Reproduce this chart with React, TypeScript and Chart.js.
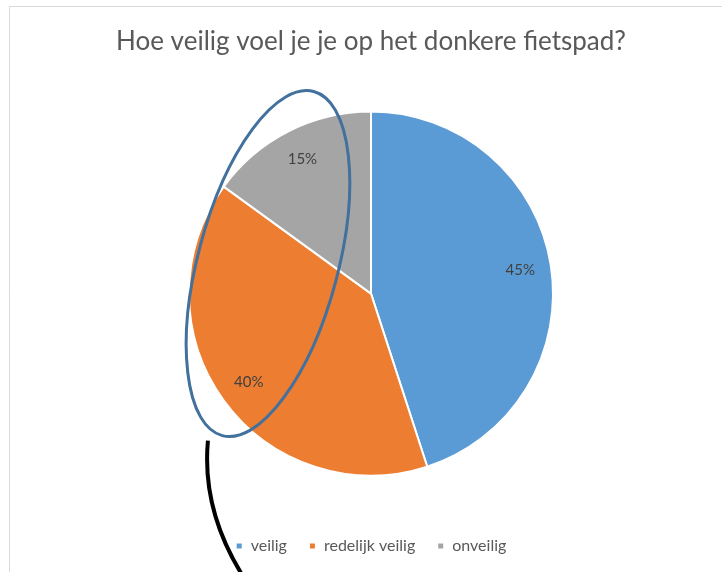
import React, { useEffect, useRef } from "react";
import { Chart, registerables } from "chart.js";

Chart.register(...registerables);

const categories = ["veilig", "redelijk veilig", "onveilig"];
const percentages = [45, 40, 15];
const sliceColors = ["#5B9BD5", "#ED7D31", "#A5A5A5"];
const titleText = "Hoe veilig voel je je op het donkere fietspad?";

const FONT = "Lato, 'Open Sans', sans-serif";

const decorPlugin = {
  id: "decor",
  beforeDraw(chart: any) {
    const ctx = chart.ctx;
    ctx.save();
    ctx.strokeStyle = "#D9D9D9";
    ctx.lineWidth = 1;
    ctx.beginPath();
    ctx.moveTo(9.5, chart.height + 2);
    ctx.lineTo(9.5, 6.5);
    ctx.lineTo(chart.width + 2, 6.5);
    ctx.stroke();
    ctx.restore();
  },
  afterDatasetsDraw(chart: any) {
    const ctx = chart.ctx;
    const meta = chart.getDatasetMeta(0);
    ctx.save();
    ctx.fillStyle = "#404040";
    ctx.font = "15px " + FONT;
    ctx.textAlign = "center";
    ctx.textBaseline = "middle";
    meta.data.forEach((arc: any, i: number) => {
      const { x, y, startAngle, endAngle, outerRadius } = arc.getProps(
        ["x", "y", "startAngle", "endAngle", "outerRadius"],
        true
      );
      const mid = (startAngle + endAngle) / 2;
      const r = outerRadius * 0.83;
      ctx.fillText(
        percentages[i] + "%",
        x + Math.cos(mid) * r,
        y + Math.sin(mid) * r
      );
    });
    ctx.restore();
  },
  afterDraw(chart: any) {
    const ctx = chart.ctx;
    const arc = chart.getDatasetMeta(0).data[0];
    if (!arc) return;
    const { x: cx, y: cy, outerRadius: R } = arc.getProps(
      ["x", "y", "outerRadius"],
      true
    );
    ctx.save();
    // highlight ellipse
    ctx.strokeStyle = "#41719C";
    ctx.lineWidth = 3;
    ctx.beginPath();
    ctx.ellipse(
      cx - 0.566 * R,
      cy - 0.165 * R,
      0.385 * R,
      0.978 * R,
      0.26,
      0,
      Math.PI * 2
    );
    ctx.stroke();
    // pointer curve
    ctx.strokeStyle = "#000000";
    ctx.lineWidth = 4;
    ctx.beginPath();
    ctx.moveTo(cx - 0.896 * R, cy + 0.808 * R);
    ctx.quadraticCurveTo(
      cx - 0.932 * R,
      cy + 1.198 * R,
      cx - 0.692 * R,
      cy + 1.571 * R
    );
    ctx.stroke();
    ctx.restore();
  },
};

export default function App() {
  const canvasRef = useRef<HTMLCanvasElement | null>(null);

  useEffect(() => {
    if (!canvasRef.current) return;
    const chart = new Chart(canvasRef.current, {
      type: "pie",
      data: {
        labels: categories,
        datasets: [
          {
            data: percentages,
            backgroundColor: sliceColors,
            borderColor: "#FFFFFF",
            borderWidth: 2,
            radius: 182,
          },
        ],
      },
      options: {
        responsive: false,
        animation: false,
        layout: { padding: { left: 20, right: 0, top: 0, bottom: 8 } },
        plugins: {
          title: {
            display: true,
            text: titleText,
            color: "#595959",
            font: { family: FONT, size: 26, weight: "normal" },
            padding: { top: 26.5, bottom: 13.5 },
          },
          legend: {
            display: true,
            position: "bottom",
            labels: {
              color: "#595959",
              font: { family: FONT, size: 16 },
              boxWidth: 7,
              boxHeight: 7,
              padding: 22,
            },
          },
          tooltip: { enabled: false },
        },
      },
      plugins: [decorPlugin],
    });
    return () => chart.destroy();
  }, []);

  return (
    <div style={{ position: "absolute", left: 0, top: 0, width: 722, height: 572, background: "#fff" }}>
      <canvas ref={canvasRef} width={722} height={572} />
    </div>
  );
}
